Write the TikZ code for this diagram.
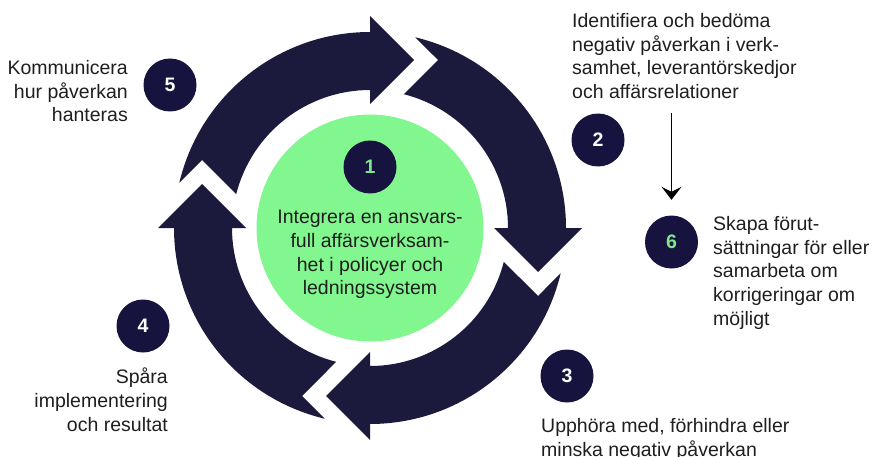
\documentclass[tikz,border=0pt]{standalone}
\usepackage{fontspec}
\setmainfont{Liberation Sans}
\usetikzlibrary{arrows.meta}
\definecolor{navy}{HTML}{1B1A3D}
\definecolor{numnavy}{HTML}{16143F}
\definecolor{lgreen}{HTML}{82F78F}
\definecolor{numgreen}{HTML}{7EEA8C}
\definecolor{txt}{HTML}{1E1E1E}
\tikzset{
  numcirc/.style={circle, fill=numnavy, minimum size=53, inner sep=0,
    text=white, font=\fontsize{19.5}{23.7}\selectfont\bfseries},
  label/.style={inner sep=0, text=txt, font=\fontsize{19.5}{23.7}\selectfont},
  conn/.style={draw=black, line width=1.2, -{Stealth[length=13, width=20, inset=5]}},
  ringarrow/.style={fill=navy}
}
\begin{document}
\begin{tikzpicture}[x=1pt,y=1pt]
\useasboundingbox (0,0) rectangle (875,456);
% ring of four arrows
\foreach \r in {0,-90,-180,-270}{
  \fill[ringarrow, shift={(370,228)}, rotate=\r]
    (166.64:196) arc[start angle=166.64, end angle=90, radius=196]
    -- (0,212) -- (44,168) -- (0,124) -- (0,138)
    arc[start angle=90, end angle=165.82, radius=138]
    -- (-168,68) -- cycle;
}
% centre
\node[circle, fill=lgreen, minimum size=227, inner sep=0] (core) at (370,228) {};
\node[label, anchor=north, align=center] (t1) at (370,246)
  {Integrera en ansvars-\\full affärsverksam-\\het i policyer och\\ledningssystem};
\node[numcirc, text=numgreen] (c1) at (370,289) {1};
% numbered circles
\node[numcirc] (c2) at (598,316) {2};
\node[numcirc] (c3) at (567,80) {3};
\node[numcirc] (c4) at (143,130) {4};
\node[numcirc] (c5) at (170,371) {5};
\node[numcirc, text=numgreen] (c6) at (671.5,214) {6};
% labels
\node[label, anchor=north west, align=left] (t2) at (572,443)
  {Identifiera och bedöma\\negativ påverkan i verk-\\samhet, leverantörskedjor\\och affärsrelationer};
\node[label, anchor=north west, align=left] (t3) at (541,38)
  {Upphöra med, förhindra eller\\minska negativ påverkan};
\node[label, anchor=north east, align=right] (t4) at (168,88)
  {Spåra\\implementering\\och resultat};
\node[label, anchor=north east, align=right] (t5) at (128,396)
  {Kommunicera\\hur påverkan\\hanteras};
\node[label, anchor=north west, align=left] (t6) at (713,240)
  {Skapa förut-\\sättningar för eller\\samarbeta om\\korrigeringar om\\möjligt};
% connector 2 -> 6
\coordinate (a2) at (671.5,343);
\draw[conn] (a2) -- ([yshift=15.5]c6.north);
\end{tikzpicture}
\end{document}
